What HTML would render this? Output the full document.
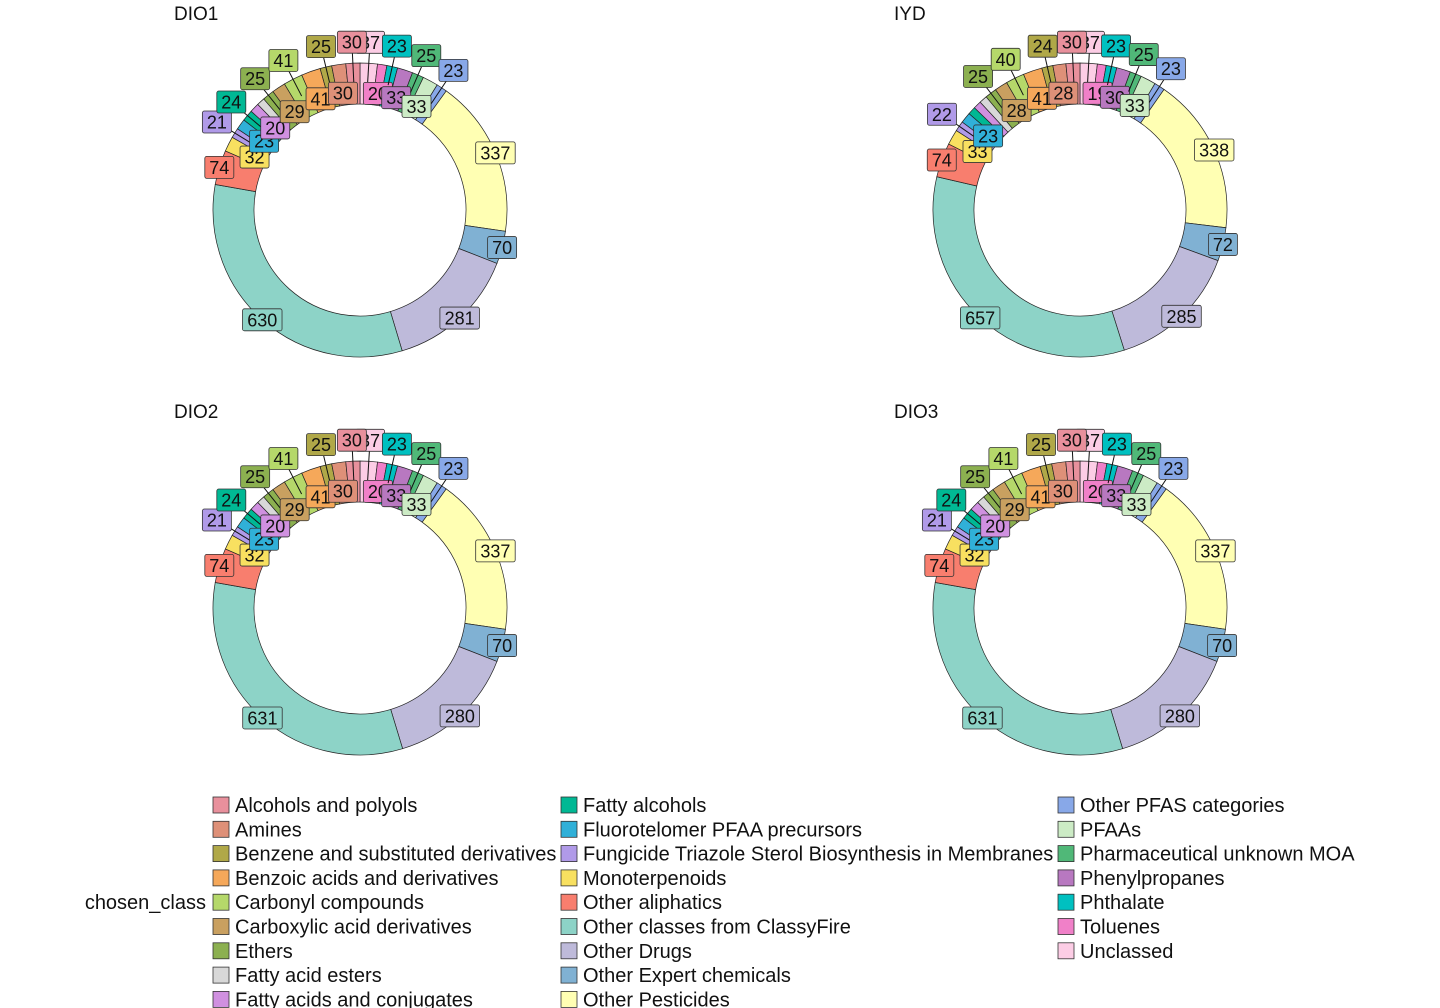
<!DOCTYPE html>
<html><head><meta charset="utf-8"><style>
body{margin:0;background:#fff;font-family:"Liberation Sans",Arial,sans-serif;}
svg{display:block}
</style></head><body>
<svg id="chart" width="1440" height="1008"></svg>
<script>
const categories=["Alcohols and polyols","Amines","Benzene and substituted derivatives","Benzoic acids and derivatives","Carbonyl compounds","Carboxylic acid derivatives","Ethers","Fatty acid esters","Fatty acids and conjugates","Fatty alcohols","Fluorotelomer PFAA precursors","Fungicide Triazole Sterol Biosynthesis in Membranes","Monoterpenoids","Other aliphatics","Other classes from ClassyFire","Other Drugs","Other Expert chemicals","Other Pesticides","Other PFAS categories","PFAAs","Pharmaceutical unknown MOA","Phenylpropanes","Phthalate","Toluenes","Unclassed"];
const colors=["#E8909C","#DE9078","#B0A848","#F5A85A","#B5D86A","#C9A060","#8CB050","#D8D8D8","#D090E0","#00B894","#30B0D8","#B09AE8","#F8E060","#F87E6E","#8DD3C7","#BEBADA","#80B1D3","#FFFFB3","#88A8E8","#CCEBC5","#50B878","#B878C0","#00C0C0","#F080C8","#FCCDE5"];
const panelNames=["DIO1","IYD","DIO2","DIO3"];
const dio1=[30,30,25,41,41,29,25,17,20,24,23,21,32,74,630,281,70,337,23,33,25,33,23,20,37];
const iyd=[30,28,24,41,40,28,25,17,17,17,23,22,33,74,657,285,72,338,23,33,25,30,23,19,37];
const dio2=[30,30,25,41,41,29,25,17,20,24,23,21,32,74,631,280,70,337,23,33,25,33,23,20,37];
const dio3=[30,30,25,41,41,29,25,17,20,24,23,21,32,74,631,280,70,337,23,33,25,33,23,20,37];
const panelData=[dio1,iyd,dio2,dio3];

const NS="http://www.w3.org/2000/svg";
const svg=document.getElementById('chart');
function mk(tag,attrs,parent){const e=document.createElementNS(NS,tag);for(const k in attrs)e.setAttribute(k,attrs[k]);(parent||svg).appendChild(e);return e;}
const centers=[[360,210],[1080,210],[360,608],[1080,608]];
const titlePos=[[174,20],[894,20],[174,418],[894,418]];
const R=147,r0=106;
function pt(cx,cy,rad,a){return [cx+rad*Math.sin(a),cy-rad*Math.cos(a)];}
panelData.forEach((vals,p)=>{
  const [cx,cy]=centers[p];
  const g=mk('g',{});
  
  
  const t=mk('text',{x:titlePos[p][0],y:titlePos[p][1],'font-size':19,fill:'#111'},g);
  
  
  t.textContent=panelNames[p];
  const total=vals.reduce((a,b)=>a+b,0);
  let acc=0;const slices=[];
  for(let i=vals.length-1;i>=0;i--){
    const a0=acc/total*2*Math.PI;acc+=vals[i];const a1=acc/total*2*Math.PI;
    slices.push({i,a0,a1,v:vals[i]});
  }
  slices.forEach(s=>{
    const [x0,y0]=pt(cx,cy,R,s.a0),[x1,y1]=pt(cx,cy,R,s.a1),[x2,y2]=pt(cx,cy,r0,s.a1),[x3,y3]=pt(cx,cy,r0,s.a0);
    const large=(s.a1-s.a0)>Math.PI?1:0;
    const path=mk('path',{d:`M${x0},${y0}A${R},${R} 0 ${large} 1 ${x1},${y1}L${x2},${y2}A${r0},${r0} 0 ${large} 0 ${x3},${y3}Z`,fill:colors[s.i],stroke:'#222','stroke-width':0.7},g);
    
    
  });
  let k=0;
  slices.forEach(s=>{
    if(s.v<19)return;
    const am=(s.a0+s.a1)/2;
    let rad=R;
    if(s.v<60){rad=(k%2===0)?168:118;k++;}
    const [lx,ly]=pt(cx,cy,rad,am);
    if(s.v<60){const [sx,sy]=pt(cx,cy,128,am);const ln=mk('line',{x1:sx,y1:sy,x2:lx,y2:ly,stroke:'#111','stroke-width':1},g);
      }
    const txt=String(s.v);const w=txt.length*10.5+8;
    const rect=mk('rect',{x:lx-w/2,y:ly-11,width:w,height:22,rx:2,fill:colors[s.i],stroke:'#333','stroke-width':0.8},g);
    
    const tx=mk('text',{x:lx,y:ly+6.5,'text-anchor':'middle','font-size':18,fill:'#111'},g);
    
    tx.textContent=txt;
  });
});
const lg=mk('g',{});

const lt=mk('text',{x:206,y:909,'text-anchor':'end','font-size':20,fill:'#111'},lg);

lt.textContent='chosen_class';
const colX=[213,561,1058];
categories.forEach((c,i)=>{
  const col=i<9?0:(i<18?1:2);const row=col===0?i:(col===1?i-9:i-18);
  const y=797+row*24.3;
  const e=mk('g',{},lg);
  
  mk('rect',{x:colX[col],y:y,width:16,height:16,fill:colors[i],stroke:'#333','stroke-width':0.8},e);
  const tx=mk('text',{x:colX[col]+22,y:y+15,'font-size':20,fill:'#111'},e);
  tx.textContent=c;
});
</script>
</body></html>
